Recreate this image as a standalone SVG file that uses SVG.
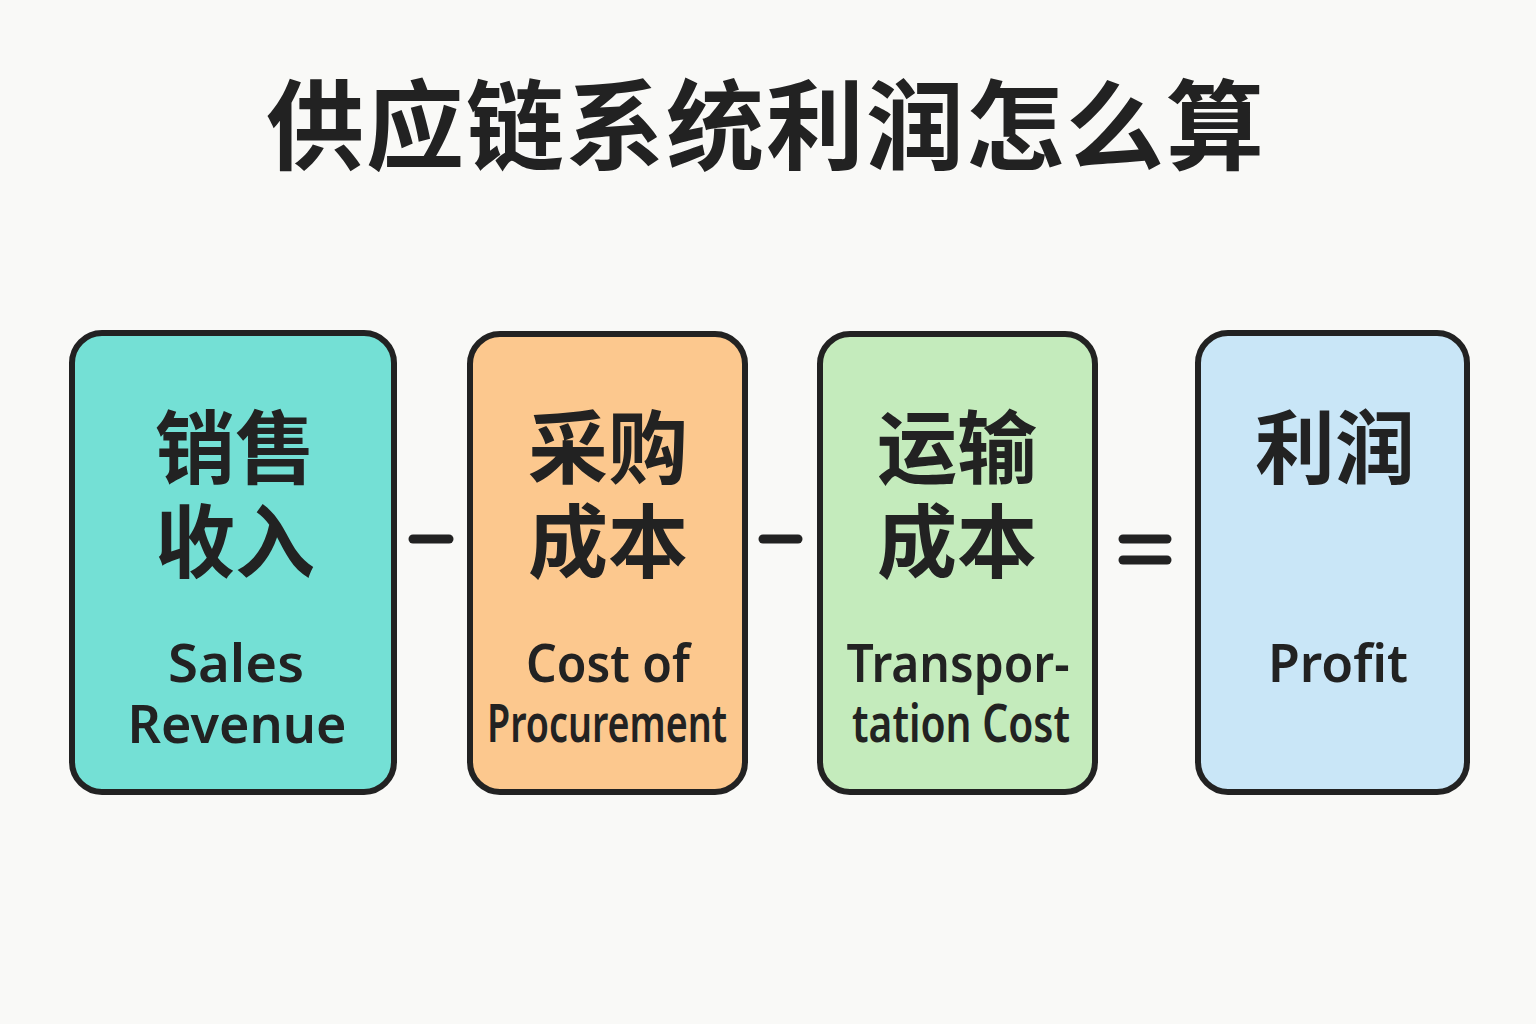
<svg xmlns="http://www.w3.org/2000/svg" width="1536" height="1024" viewBox="0 0 1536 1024">
<style>
.bg{fill:#F9F9F7}
.box{stroke:#222222;stroke-width:6}
.title{font-family:"Noto Sans CJK SC","Noto Sans",sans-serif;font-weight:700;font-size:98px;fill:#222222;text-anchor:middle}
.cjk{font-family:"Noto Sans CJK SC","Noto Sans",sans-serif;font-weight:700;font-size:80px;fill:#222222;text-anchor:middle}
.en{font-family:"Noto Sans","Liberation Sans",sans-serif;font-weight:600;font-size:52px;fill:#222222;text-anchor:middle}
.op{stroke:#222222;stroke-width:9;stroke-linecap:round;fill:none}
</style>
<rect class="bg" x="0" y="0" width="1536" height="1024"/>
<text class="title" x="766" y="162" letter-spacing="2">供应链系统利润怎么算</text>
<g id="node-sales">
<rect class="box" x="72" y="333" width="322" height="459" rx="30" fill="#74E0D5"/>
<text class="cjk"><tspan x="235" y="477">销售</tspan><tspan x="235" y="571">收入</tspan></text>
<text class="en"><tspan x="236" y="682" textLength="136" lengthAdjust="spacingAndGlyphs">Sales</tspan><tspan x="237" y="743" textLength="219" lengthAdjust="spacingAndGlyphs">Revenue</tspan></text>
</g>
<g id="node-procurement">
<rect class="box" x="470" y="334" width="275" height="458" rx="30" fill="#FCC88E"/>
<text class="cjk"><tspan x="608" y="477">采购</tspan><tspan x="608" y="571">成本</tspan></text>
<text class="en"><tspan x="608" y="682" textLength="164" lengthAdjust="spacingAndGlyphs">Cost of</tspan><tspan x="607" y="742" textLength="240" lengthAdjust="spacingAndGlyphs">Procurement</tspan></text>
</g>
<g id="node-transport">
<rect class="box" x="820" y="334" width="275" height="458" rx="30" fill="#C4EBBC"/>
<text class="cjk"><tspan x="957" y="477">运输</tspan><tspan x="957" y="571">成本</tspan></text>
<text class="en"><tspan x="958" y="682" textLength="223" lengthAdjust="spacingAndGlyphs">Transpor-</tspan><tspan x="961" y="742" textLength="218" lengthAdjust="spacingAndGlyphs">tation Cost</tspan></text>
</g>
<g id="node-profit">
<rect class="box" x="1198" y="333" width="269" height="459" rx="30" fill="#C9E6F7"/>
<text class="cjk" x="1335" y="477">利润</text>
<text class="en" x="1338" y="682" textLength="140" lengthAdjust="spacingAndGlyphs">Profit</text>
</g>
<g id="connectors">
<line class="op" x1="413" y1="539" x2="449" y2="539"/>
<line class="op" x1="763" y1="539" x2="798" y2="539"/>
<line class="op" x1="1123" y1="539" x2="1167" y2="539"/>
<line class="op" x1="1123" y1="560" x2="1167" y2="560"/>
</g>
</svg>
